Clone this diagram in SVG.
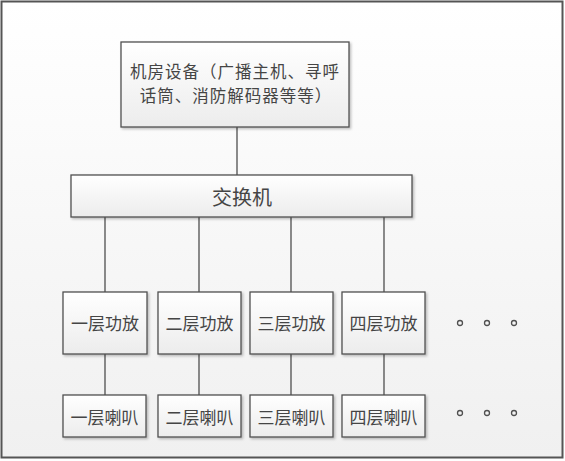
<svg xmlns="http://www.w3.org/2000/svg" width="565" height="461" viewBox="0 0 565 461">
<defs>
<linearGradient id="bg" x1="0" y1="0" x2="0" y2="1"><stop offset="0" stop-color="#ffffff"/><stop offset="1" stop-color="#f0f0f0"/></linearGradient>
<linearGradient id="box" x1="0" y1="0" x2="0" y2="1"><stop offset="0" stop-color="#ffffff"/><stop offset="1" stop-color="#ececec"/></linearGradient>
<filter id="sh" x="-10%" y="-10%" width="130%" height="130%"><feDropShadow dx="1.5" dy="1.5" stdDeviation="1" flood-color="#000" flood-opacity="0.25"/></filter>
</defs>
<style>
.b{fill:url(#box);stroke:#505050;stroke-width:1.3;filter:url(#sh)}
.t{font-family:"Noto Sans CJK SC","Noto Sans",sans-serif;fill:#454545;text-anchor:middle;dominant-baseline:central}
.c{stroke:#404040;stroke-width:1.2;fill:none}
.d{fill:none;stroke:#505050;stroke-width:1.3}
</style>
<rect x="1.5" y="1.5" width="561" height="456" fill="url(#bg)" stroke="#555" stroke-width="2"/>
<g id="connectors">
<line class="c" x1="237" y1="127" x2="237" y2="175"/>
<line class="c" x1="105" y1="217" x2="105" y2="292"/>
<line class="c" x1="199" y1="217" x2="199" y2="292"/>
<line class="c" x1="291" y1="217" x2="291" y2="292"/>
<line class="c" x1="384" y1="217" x2="384" y2="292"/>
<line class="c" x1="105" y1="354" x2="105" y2="395"/>
<line class="c" x1="199" y1="354" x2="199" y2="395"/>
<line class="c" x1="291" y1="354" x2="291" y2="395"/>
<line class="c" x1="384" y1="354" x2="384" y2="395"/>
</g>
<g id="room"><rect class="b" x="121" y="42" width="228" height="85"/>
<text class="t" x="235" y="71" font-size="16.5" letter-spacing="1">机房设备（广播主机、寻呼</text>
<text class="t" x="236" y="95" font-size="16.5" letter-spacing="1">话筒、消防解码器等等）</text></g>
<g id="switch"><rect class="b" x="71" y="175" width="341" height="42"/>
<text class="t" x="242" y="196" font-size="20">交换机</text></g>
<g id="amp1"><rect class="b" x="63" y="292" width="84" height="62"/><text class="t" x="105" y="322" font-size="17">一层功放</text></g>
<g id="amp2"><rect class="b" x="158" y="292" width="83" height="62"/><text class="t" x="199.5" y="322" font-size="17">二层功放</text></g>
<g id="amp3"><rect class="b" x="250" y="292" width="83" height="62"/><text class="t" x="291.5" y="322" font-size="17">三层功放</text></g>
<g id="amp4"><rect class="b" x="342" y="292" width="83" height="62"/><text class="t" x="383.5" y="322" font-size="17">四层功放</text></g>
<g id="spk1"><rect class="b" x="63" y="395" width="83" height="42"/><text class="t" x="104.5" y="416" font-size="17">一层喇叭</text></g>
<g id="spk2"><rect class="b" x="158" y="395" width="83" height="42"/><text class="t" x="199.5" y="416" font-size="17">二层喇叭</text></g>
<g id="spk3"><rect class="b" x="250" y="395" width="83" height="42"/><text class="t" x="291.5" y="416" font-size="17">三层喇叭</text></g>
<g id="spk4"><rect class="b" x="342" y="395" width="83" height="42"/><text class="t" x="383.5" y="416" font-size="17">四层喇叭</text></g>
<g id="dots1"><circle class="d" cx="460" cy="323" r="2.5"/><circle class="d" cx="487" cy="323" r="2.5"/><circle class="d" cx="514" cy="323" r="2.5"/></g>
<g id="dots2"><circle class="d" cx="460" cy="413" r="2.5"/><circle class="d" cx="487" cy="413" r="2.5"/><circle class="d" cx="514" cy="413" r="2.5"/></g>
</svg>
